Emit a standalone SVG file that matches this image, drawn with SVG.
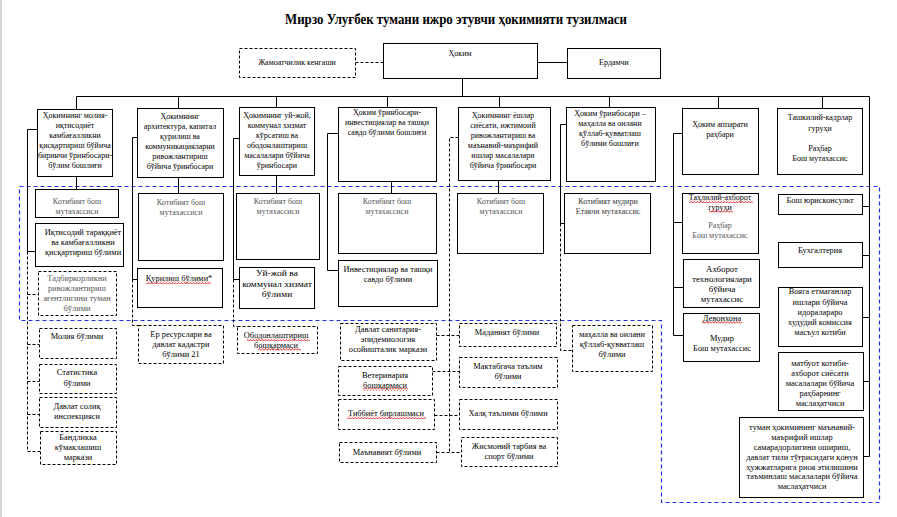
<svg xmlns="http://www.w3.org/2000/svg" width="897" height="517" viewBox="0 0 897 517">
<defs>
<pattern id="sq" width="3" height="3" patternUnits="userSpaceOnUse"><path d="M0 2.5L1.5 0.5L3 2.5" stroke="#e01010" stroke-width="0.8" fill="none"/></pattern>
<style>
.b{fill:#fff;stroke:#000;stroke-width:1}
.d{fill:#fff;stroke:#000;stroke-width:1;stroke-dasharray:3 2}
.ln{stroke:#000;stroke-width:1;fill:none}
.dl{stroke:#000;stroke-width:1;fill:none;stroke-dasharray:3 2}
.t{font-family:"Liberation Serif","Times New Roman",serif;font-size:8.8px;text-anchor:middle;fill:#000}
.g{fill:#555}
.sq{fill:url(#sq)}
</style>
</defs>
<rect width="897" height="517" fill="#fff"/>
<line x1="1" y1="0" x2="1" y2="517" stroke="#c8c8c8" stroke-width="1.5"/>
<text x="456" y="24" font-family="Liberation Serif, Times New Roman, serif" font-size="15" font-weight="bold" text-anchor="middle" textLength="342" lengthAdjust="spacingAndGlyphs">Мирзо Улуғбек тумани ижро этувчи ҳокимияти тузилмаси</text>

<g id="region">
<path d="M19.5 186.5H879.5V502.5H661.5V320.5H19.5Z" fill="none" stroke="#2233ee" stroke-width="1.2" stroke-dasharray="4 3"/>
</g>

<g id="connectors">
<path class="dl" d="M355.5 62.5H383.5"/>
<path class="ln" d="M537.5 62.5H567.5M462.5 78.5V96.5M76.5 96.5H869.5M869.5 96.5V456.5"/>
<path class="ln" d="M76.5 96.5V109.5M178.5 96.5V108.5M276.5 96.5V107.5M387.5 96.5V107.5M499.5 96.5V107.5M609.5 96.5V107.5M718.5 96.5V108.5M822.5 96.5V108.5"/>
<path class="ln" d="M76.5 176.5V189.5M178.5 177.5V193.5M276.5 175.5V193.5M391.5 181.5V193.5M498.5 180.5V193.5"/>
<path class="ln" d="M37.5 129.5H27.5V251.5H35.5"/>
<path class="dl" d="M27.5 251.5V451.5M27.5 294.5H38.5M27.5 344.5H39.5M27.5 381.5H39.5M27.5 414.5H39.5M27.5 451.5H40.5"/>
<path class="ln" d="M137.5 137.5H132.5V279.5H137.5"/>
<path class="dl" d="M132.5 279.5V325.5H138.5"/>
<path class="ln" d="M239.5 138.5H233.5V279.5H239.5"/>
<path class="dl" d="M233.5 279.5V326.5H237.5"/>
<path class="ln" d="M338.5 133.5H327.5V270.5H338.5"/>
<path class="dl" d="M458.5 137.5H449.5V452.5M436.5 335.5H459.5M432.5 371.5H459.5M434.5 415.5H459.5M436.5 452.5H461.5"/>
<path class="ln" d="M566.5 124.5H560.5V223.5H564.5"/>
<path class="dl" d="M560.5 223.5V350.5H572.5"/>
<path class="ln" d="M682.5 133.5H673.5V335.5H683.5M673.5 222.5H682.5M673.5 287.5H683.5"/>
<path class="ln" d="M862.5 206.5H869.5M862.5 255.5H869.5M862.5 317.5H869.5M863.5 381.5H869.5M863.5 456.5H869.5"/>
</g>

<g id="n-jamoat"><rect class="d" x="239.5" y="48.5" width="116" height="29"/><text class="t" transform="translate(297 0) scale(.91 1)"><tspan x="0" y="65.5">Жамоатчилик кенгаши</tspan></text></g>
<g id="n-hokim"><rect class="b" x="383.5" y="43.5" width="154" height="35"/><text class="t" transform="translate(460 0) scale(.91 1)"><tspan x="0" y="56.5">Ҳоким</tspan></text></g>
<g id="n-erdamchi"><rect class="b" x="567.5" y="48.5" width="93" height="30"/><text class="t" transform="translate(614 0) scale(.91 1)"><tspan x="0" y="65.5">Ердамчи</tspan></text></g>

<g id="n-moliya"><rect class="b" x="37.5" y="109.5" width="75" height="67"/><text class="t" transform="translate(75 0) scale(.91 1)"><tspan x="0" y="118">Ҳокимнинг  молия-</tspan><tspan x="0" y="128">иқтисодиёт</tspan><tspan x="0" y="138">камбағалликни</tspan><tspan x="0" y="148">қисқартириш бўйича</tspan><tspan x="0" y="158">биринчи ўринбосари-</tspan><tspan x="0" y="168">бўлим бошлиғи</tspan></text></g>
<g id="n-arxitektura"><rect class="b" x="137.5" y="108.5" width="86" height="69"/><text class="t" transform="translate(180 0) scale(.91 1)"><tspan x="0" y="119.5">Ҳокимнинг</tspan><tspan x="0" y="129.5">архитектура, капитал</tspan><tspan x="0" y="139.5">қурилиш ва</tspan><tspan x="0" y="149.5">коммуникацияларни</tspan><tspan x="0" y="159.5">ривожлантириш</tspan><tspan x="0" y="169.5">бўйича ўринбосари</tspan></text></g>
<g id="n-uyjoy"><rect class="b" x="239.5" y="107.5" width="75" height="68"/><text class="t" transform="translate(277 0) scale(.91 1)"><tspan x="0" y="118">Ҳокимнинг уй-жой,</tspan><tspan x="0" y="128">коммунал хизмат</tspan><tspan x="0" y="138">кўрсатиш ва</tspan><tspan x="0" y="148">ободонлаштириш</tspan><tspan x="0" y="158">масалалари бўйича</tspan><tspan x="0" y="168">ўринбосари</tspan></text></g>
<g id="n-invest"><rect class="b" x="338.5" y="107.5" width="98" height="74"/><text class="t" transform="translate(387 0) scale(.91 1)"><tspan x="0" y="115.5">Ҳоким ўринбосари-</tspan><tspan x="0" y="125.5">инвестициялар ва ташқи</tspan><tspan x="0" y="135.5">савдо бўлими бошлиғи</tspan></text></g>
<g id="n-yoshlar"><rect class="b" x="458.5" y="107.5" width="92" height="73"/><text class="t" transform="translate(503 0) scale(.91 1)"><tspan x="0" y="118">Ҳокимнинг ёшлар</tspan><tspan x="0" y="128">сиёсати, ижтимоий</tspan><tspan x="0" y="138">ривожлантириш ва</tspan><tspan x="0" y="148">маънавий-маърифий</tspan><tspan x="0" y="158">ишлар масалалари</tspan><tspan x="0" y="168">бўйича ўринбосари</tspan></text></g>
<g id="n-mahalla"><rect class="b" x="566.5" y="107.5" width="89" height="74"/><text class="t" transform="translate(610 0) scale(.91 1)"><tspan x="0" y="116.5">Ҳоким ўринбосари –</tspan><tspan x="0" y="126.5">маҳалла ва оилани</tspan><tspan x="0" y="136.5">қўллаб-қувватлаш</tspan><tspan x="0" y="146.5">бўлими бошлиғи</tspan></text></g>
<g id="n-apparat"><rect class="b" x="682.5" y="108.5" width="76" height="66"/><text class="t" transform="translate(720 0) scale(.91 1)"><tspan x="0" y="127">Ҳоким аппарати</tspan><tspan x="0" y="137">раҳбари</tspan></text></g>
<g id="n-kadrlar"><rect class="b" x="777.5" y="108.5" width="85" height="66"/><text class="t" transform="translate(820 0) scale(.91 1)"><tspan x="0" y="120.5">Ташкилий-кадрлар</tspan><tspan x="0" y="131">гуруҳи</tspan><tspan x="0" y="151">Раҳбар</tspan><tspan x="0" y="161">Бош мутахассис</tspan></text></g>

<g id="n-kot1"><rect class="b" x="35.5" y="189.5" width="83" height="28"/><text class="t g" transform="translate(77 0) scale(.91 1)"><tspan x="0" y="204.5">Котибият бош</tspan><tspan x="0" y="214.5">мутахассиси</tspan></text></g>
<g id="n-iqtisod"><rect class="b" x="35.5" y="223.5" width="88" height="43"/><text class="t" transform="translate(83 0) scale(.95 1)"><tspan x="0" y="235">Иқтисодий тараққиёт</tspan><tspan x="0" y="245">ва камбағалликни</tspan><tspan x="0" y="255">қисқартириш бўлими</tspan></text></g>
<g id="n-tadbirkor"><rect class="d" x="38.5" y="271.5" width="78" height="44"/><text class="t g" transform="translate(77 0) scale(.95 1)"><tspan x="0" y="281.5">Тадбиркорликни</tspan><tspan x="0" y="291.5">ривожлантириш</tspan><tspan x="0" y="301.5">агентлигини туман</tspan><tspan x="0" y="311.5">бўлими</tspan></text></g>
<g id="n-moliyab"><rect class="d" x="39.5" y="328.5" width="77" height="30"/><text class="t" transform="translate(77 0) scale(.95 1)"><tspan x="0" y="339.5">Молия бўлими</tspan></text></g>
<g id="n-statistika"><rect class="d" x="39.5" y="364.5" width="77" height="29"/><text class="t" transform="translate(77 0) scale(.95 1)"><tspan x="0" y="375.5">Статистика</tspan><tspan x="0" y="386">бўлими</tspan></text></g>
<g id="n-soliq"><rect class="d" x="39.5" y="397.5" width="77" height="30"/><text class="t" transform="translate(77 0) scale(.95 1)"><tspan x="0" y="409.5">Давлат солиқ</tspan><tspan x="0" y="419.5">инспекцияси</tspan></text></g>
<g id="n-bandlik"><rect class="d" x="40.5" y="431.5" width="76" height="33"/><text class="t" transform="translate(78 0) scale(.95 1)"><tspan x="0" y="440.5">Бандликка</tspan><tspan x="0" y="450.5">кўмаклашиш</tspan><tspan x="0" y="460.5">маркази</tspan></text></g>

<g id="n-kot2"><rect class="b" x="138.5" y="193.5" width="85" height="67"/><text class="t g" transform="translate(181 0) scale(.91 1)"><tspan x="0" y="205">Котибият бош</tspan><tspan x="0" y="215">мутахассиси</tspan></text></g>
<g id="n-qurilish"><rect class="b" x="137.5" y="268.5" width="85" height="39"/><text class="t" transform="translate(179 0) scale(.95 1)"><tspan x="0" y="281">Қурилиш бўлими*</tspan></text><rect class="sq" x="146" y="281" width="65" height="3"/></g>
<g id="n-eryer"><rect class="d" x="138.5" y="325.5" width="85" height="38"/><text class="t" transform="translate(181 0) scale(.95 1)"><tspan x="0" y="337.5">Ер ресурслари ва</tspan><tspan x="0" y="347.5">давлат кадастри</tspan><tspan x="0" y="357.5">бўлими 21</tspan></text></g>

<g id="n-kot3"><rect class="b" x="236.5" y="193.5" width="83" height="66"/><text class="t g" transform="translate(278 0) scale(.91 1)"><tspan x="0" y="204.5">Котибият бош</tspan><tspan x="0" y="214.5">мутахассиси</tspan></text></g>
<g id="n-uyjoyb"><rect class="b" x="239.5" y="267.5" width="75" height="41"/><text class="t" style="font-size:9px" transform="translate(277 0) scale(1.06 1)"><tspan x="0" y="276.5">Уй-жой ва</tspan><tspan x="0" y="287">коммунал хизмат</tspan><tspan x="0" y="297.5">бўлими</tspan></text></g>
<g id="n-obod"><rect class="d" x="237.5" y="326.5" width="80" height="27"/><text class="t" transform="translate(276 0) scale(.95 1)"><tspan x="0" y="338.5">Ободонлаштириш</tspan><tspan x="0" y="348.5">бошқармаси</tspan></text><rect class="sq" x="247" y="338" width="63" height="3"/><rect class="sq" x="258" y="348" width="43" height="3"/></g>

<g id="n-kot4"><rect class="b" x="338.5" y="193.5" width="98" height="60"/><text class="t g" transform="translate(387 0) scale(.91 1)"><tspan x="0" y="204.5">Котибият бош</tspan><tspan x="0" y="214.5">мутахассиси</tspan></text></g>
<g id="n-investb"><rect class="b" x="338.5" y="260.5" width="99" height="46"/><text class="t" transform="translate(388 0) scale(.95 1)"><tspan x="0" y="272.5">Инвестициялар ва ташқи</tspan><tspan x="0" y="282.5">савдо бўлими</tspan></text></g>
<g id="n-sanitariya"><rect class="d" x="340.5" y="323.5" width="96" height="37"/><text class="t" transform="translate(388 0) scale(.95 1)"><tspan x="0" y="332">Давлат санитария-</tspan><tspan x="0" y="342">эпидемиология</tspan><tspan x="0" y="352">осойишталик маркази</tspan></text></g>
<g id="n-veterinariya"><rect class="d" x="338.5" y="366.5" width="94" height="29"/><text class="t" transform="translate(385 0) scale(.95 1)"><tspan x="0" y="378.5">Ветеринария</tspan><tspan x="0" y="388.5">бошқармаси</tspan></text><rect class="sq" x="363" y="388" width="45" height="3"/></g>
<g id="n-tibbiyot"><rect class="d" x="338.5" y="399.5" width="96" height="30"/><text class="t" transform="translate(386 0) scale(.95 1)"><tspan x="0" y="416.5">Тиббиёт бирлашмаси</tspan></text><rect class="sq" x="347" y="416" width="79" height="3"/></g>
<g id="n-manaviyat"><rect class="d" x="339.5" y="442.5" width="97" height="20"/><text class="t" transform="translate(387 0) scale(.95 1)"><tspan x="0" y="455.5">Маънавият бўлими</tspan></text></g>

<g id="n-kot5"><rect class="b" x="457.5" y="193.5" width="86" height="60"/><text class="t g" transform="translate(501 0) scale(.91 1)"><tspan x="0" y="204.5">Котибият бош</tspan><tspan x="0" y="214.5">мутахассиси</tspan></text></g>
<g id="n-madaniyat"><rect class="d" x="459.5" y="323.5" width="97" height="23"/><text class="t" transform="translate(507 0) scale(.95 1)"><tspan x="0" y="335.5">Маданият бўлими</tspan></text></g>
<g id="n-maktabgacha"><rect class="d" x="459.5" y="357.5" width="98" height="30"/><text class="t" transform="translate(508 0) scale(.95 1)"><tspan x="0" y="369.5">Мактабгача таълим</tspan><tspan x="0" y="379.5">бўлими</tspan></text></g>
<g id="n-xalq"><rect class="d" x="459.5" y="399.5" width="98" height="30"/><text class="t" transform="translate(508 0) scale(.95 1)"><tspan x="0" y="416.5">Халқ таълими бўлими</tspan></text></g>
<g id="n-jismoniy"><rect class="d" x="461.5" y="437.5" width="96" height="29"/><text class="t" transform="translate(509 0) scale(.95 1)"><tspan x="0" y="449.5">Жисмоний тарбия ва</tspan><tspan x="0" y="459.5">спорт бўлими</tspan></text></g>

<g id="n-kot6"><rect class="b" x="564.5" y="193.5" width="86" height="60"/><text class="t" style="fill:#333" transform="translate(608 0) scale(.91 1)"><tspan x="0" y="204.5">Котибият мудири</tspan><tspan x="0" y="214.5">Етакчи мутахассис</tspan></text></g>
<g id="n-mahallab"><rect class="d" x="572.5" y="325.5" width="80" height="46"/><text class="t" transform="translate(612 0) scale(.95 1)"><tspan x="0" y="337.5">маҳалла ва оилани</tspan><tspan x="0" y="347.5">қўллаб-қувватлаш</tspan><tspan x="0" y="357.5">бўлими</tspan></text></g>

<g id="n-tahliliy"><rect class="b" x="682.5" y="193.5" width="76" height="60"/><text class="t" transform="translate(720 0) scale(.91 1)"><tspan x="0" y="200.5">Таҳлилий-ахборот</tspan><tspan x="0" y="210.5">гуруҳи</tspan></text><text class="t g" transform="translate(720 0) scale(.91 1)"><tspan x="0" y="228">Раҳбар</tspan><tspan x="0" y="238">Бош мутахассис</tspan></text><rect class="sq" x="689" y="200" width="64" height="3"/><rect class="sq" x="709" y="210" width="24" height="3"/></g>
<g id="n-axborot"><rect class="b" x="683.5" y="259.5" width="76" height="48"/><text class="t" transform="translate(722 0) scale(1 1)"><tspan x="0" y="271.5">Ахборот</tspan><tspan x="0" y="281.5">технологиялари</tspan><tspan x="0" y="291.5">бўйича</tspan><tspan x="0" y="301.5">мутахассис</tspan></text></g>
<g id="n-devonxona"><rect class="b" x="683.5" y="313.5" width="76" height="48"/><text class="t" transform="translate(722 0) scale(.95 1)"><tspan x="0" y="321.5">Девонхона</tspan><tspan x="0" y="341.5">Мудир</tspan><tspan x="0" y="351.5">Бош мутахассис</tspan></text><rect class="sq" x="702" y="321" width="40" height="3"/></g>

<g id="n-yuriskonsult"><rect class="b" x="778.5" y="194.5" width="84" height="20"/><text class="t" transform="translate(820 0) scale(.95 1)"><tspan x="0" y="203.5">Бош юрисконсульт</tspan></text></g>
<g id="n-buxgalteriya"><rect class="b" x="778.5" y="242.5" width="84" height="25"/><text class="t" transform="translate(820 0) scale(.95 1)"><tspan x="0" y="253.5">Бухгалтерия</tspan></text></g>
<g id="n-voyaga"><rect class="b" x="778.5" y="287.5" width="84" height="59"/><text class="t" transform="translate(820 0) scale(.95 1)"><tspan x="0" y="294.5">Вояга етмаганлар</tspan><tspan x="0" y="305">ишлари бўйича</tspan><tspan x="0" y="315.5">идоралараро</tspan><tspan x="0" y="325.5">худудий комиссия</tspan><tspan x="0" y="335.5">масъул котиби</tspan></text></g>
<g id="n-matbuot"><rect class="b" x="778.5" y="352.5" width="85" height="58"/><text class="t" transform="translate(820 0) scale(.95 1)"><tspan x="0" y="366">матбуот котиби-</tspan><tspan x="0" y="376">ахборот сиёсати</tspan><tspan x="0" y="386">масалалари бўйича</tspan><tspan x="0" y="396">раҳбарнинг</tspan><tspan x="0" y="406">маслаҳатчиси</tspan></text></g>
<g id="n-tuman"><rect class="b" x="739.5" y="417.5" width="124" height="80"/><text class="t" transform="translate(802 0) scale(.95 1)"><tspan x="0" y="430.5">туман ҳокимининг маънавий-</tspan><tspan x="0" y="440.3">маърифий ишлар</tspan><tspan x="0" y="450.1">самарадорлигини ошириш,</tspan><tspan x="0" y="459.9">давлат тили тўғрисидаги қонун</tspan><tspan x="0" y="469.7">ҳужжатларига риоя этилишини</tspan><tspan x="0" y="479.5">таъминлаш масалалари бўйича</tspan><tspan x="0" y="489.3">маслаҳатчиси</tspan></text></g>
</svg>
